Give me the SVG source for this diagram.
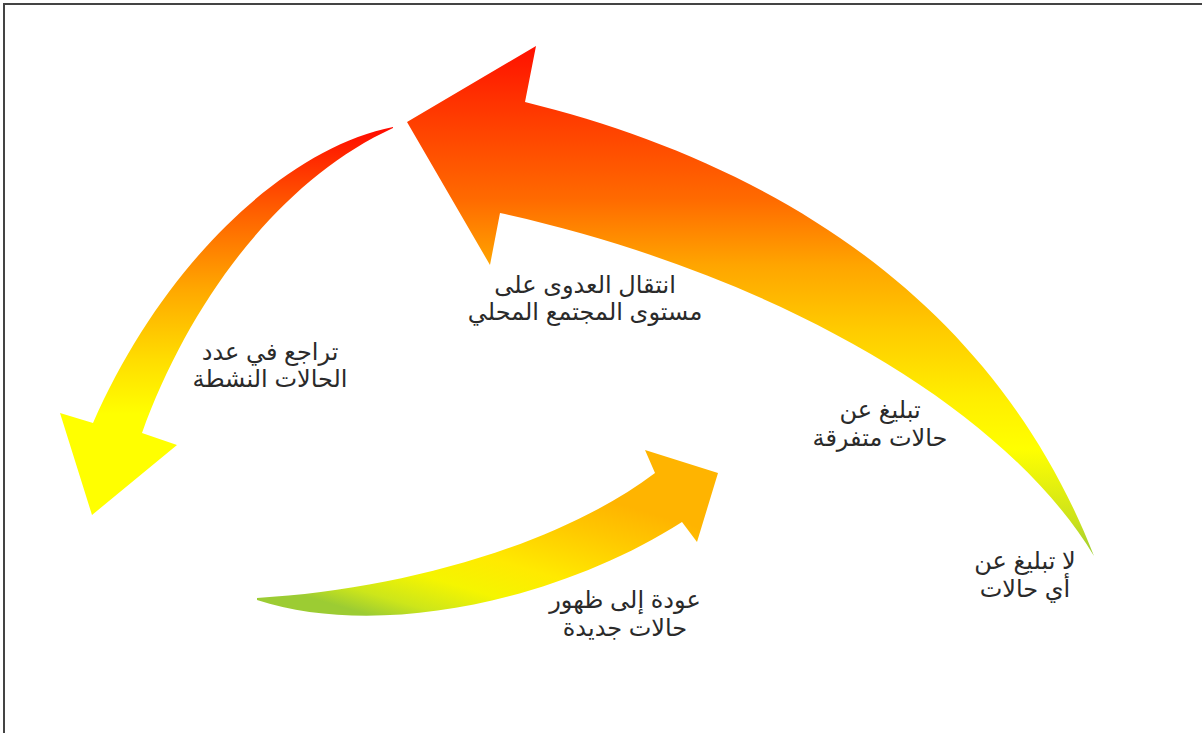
<svg xmlns="http://www.w3.org/2000/svg" width="1202" height="733" viewBox="0 0 1202 733">
<defs>
<linearGradient id="gBig" gradientUnits="userSpaceOnUse" x1="0" y1="46" x2="0" y2="556">
<stop offset="0" stop-color="#ff1000"/>
<stop offset="0.11" stop-color="#ff3300"/>
<stop offset="0.3" stop-color="#ff6a00"/>
<stop offset="0.43" stop-color="#ffa500"/>
<stop offset="0.56" stop-color="#ffcc00"/>
<stop offset="0.69" stop-color="#ffee00"/>
<stop offset="0.79" stop-color="#ffff00"/>
<stop offset="0.93" stop-color="#cce21c"/>
<stop offset="1" stop-color="#9ccc33"/>
</linearGradient>
<linearGradient id="gLeft" gradientUnits="userSpaceOnUse" x1="0" y1="127" x2="0" y2="515">
<stop offset="0" stop-color="#ff0a00"/>
<stop offset="0.22" stop-color="#ff6000"/>
<stop offset="0.42" stop-color="#ffa800"/>
<stop offset="0.6" stop-color="#ffdd00"/>
<stop offset="0.74" stop-color="#ffff00"/>
<stop offset="1" stop-color="#ffff00"/>
</linearGradient>
<linearGradient id="gBot" gradientUnits="userSpaceOnUse" x1="420" y1="630" x2="470" y2="460">
<stop offset="0" stop-color="#9ccc33"/>
<stop offset="0.12" stop-color="#cde61a"/>
<stop offset="0.3" stop-color="#f5f500"/>
<stop offset="0.5" stop-color="#ffea00"/>
<stop offset="0.8" stop-color="#ffc800"/>
<stop offset="1" stop-color="#ffb400"/>
</linearGradient>
<style>
.lbl{font-family:"Liberation Sans","DejaVu Sans",Arial,sans-serif;font-size:24px;fill:#2a2a2a;text-anchor:middle;}
</style>
</defs>
<rect width="1202" height="733" fill="#ffffff"/>
<path d="M4,733 V4 H1202" fill="none" stroke="#444" stroke-width="2"/>
<g id="connectors">
<path id="arrow-big" fill="url(#gBig)" d="M407,122 L536,46 L525,102 C760,160 990,290 1094,556 C1000,400 760,270 500,213 L490,265 Z"/>
<path id="arrow-left" fill="url(#gLeft)" d="M393,127 C280,150 160,270 93,423 L60,413 L92,515 L177,445 L142,433 C190,300 280,180 393,128 Z"/>
<path id="arrow-bottom" fill="url(#gBot)" d="M257,598 C400,590 560,545 655,473 L645,450 L718,473 L697,542 L682,522 C560,600 380,640 257,600 Z"/>
</g>
<g id="node-community">
<text class="lbl" direction="rtl" x="585" y="293">انتقال العدوى على</text>
<text class="lbl" direction="rtl" x="585" y="320">مستوى المجتمع المحلي</text>
</g>
<g id="node-decline">
<text class="lbl" direction="rtl" x="270" y="360">تراجع في عدد</text>
<text class="lbl" direction="rtl" x="270" y="387">الحالات النشطة</text>
</g>
<g id="node-sporadic">
<text class="lbl" direction="rtl" x="880" y="418">تبليغ عن</text>
<text class="lbl" direction="rtl" x="880" y="446">حالات متفرقة</text>
</g>
<g id="node-none">
<text class="lbl" direction="rtl" x="1025" y="569">لا تبليغ عن</text>
<text class="lbl" direction="rtl" x="1025" y="597">أي حالات</text>
</g>
<g id="node-return">
<text class="lbl" direction="rtl" x="625" y="608">عودة إلى ظهور</text>
<text class="lbl" direction="rtl" x="625" y="636">حالات جديدة</text>
</g>
</svg>
